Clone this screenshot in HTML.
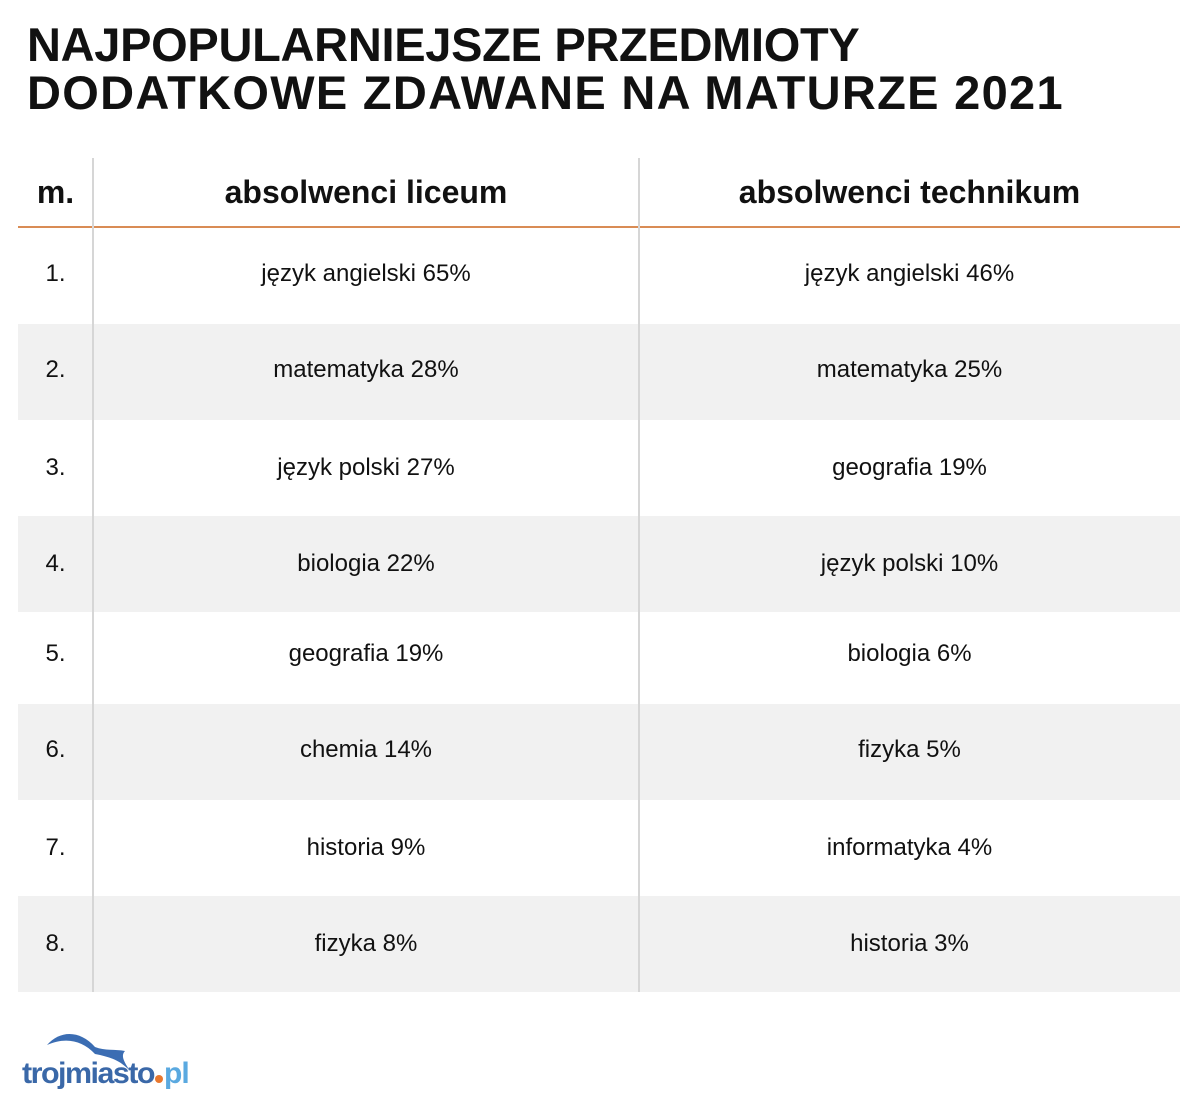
<!DOCTYPE html>
<html><head><meta charset="utf-8"><style>
body{margin:0;width:1198px;height:1120px;background:#fff;position:relative;overflow:hidden;font-family:"Liberation Sans",sans-serif;color:#111}
.t{position:absolute;left:27px;font-weight:bold;font-size:47px;line-height:48px;white-space:nowrap}
.row{position:absolute;left:18px;width:1162px}
.g{background:#f1f1f1}
.c{position:absolute;font-size:24px;text-align:center;white-space:nowrap}
.vl{position:absolute;top:158px;height:834px;width:2px;background:#d6d6d6}
</style></head><body>
<div class="t" style="top:21px;letter-spacing:-0.3px">NAJPOPULARNIEJSZE PRZEDMIOTY</div>
<div class="t" style="top:69px;letter-spacing:1.3px">DODATKOWE ZDAWANE NA MATURZE 2021</div>

<div class="row g" style="top:324px;height:96px"></div>
<div class="row g" style="top:516px;height:96px"></div>
<div class="row g" style="top:704px;height:96px"></div>
<div class="row g" style="top:896px;height:96px"></div>
<div class="row" style="top:226px;height:2px;background:#d98c55"></div>
<div class="vl" style="left:92px"></div>
<div class="vl" style="left:638px"></div>

<div class="c" style="left:18px;width:75px;top:174px;font-size:32px;font-weight:bold">m.</div>
<div class="c" style="left:93px;width:546px;top:174px;font-size:32px;font-weight:bold">absolwenci liceum</div>
<div class="c" style="left:639px;width:541px;top:174px;font-size:32px;font-weight:bold">absolwenci technikum</div>

<div id="rows"></div>
<script>
var d=[["1.","język angielski 65%","język angielski 46%",273],["2.","matematyka 28%","matematyka 25%",369],["3.","język polski 27%","geografia 19%",467],["4.","biologia 22%","język polski 10%",563],["5.","geografia 19%","biologia 6%",653],["6.","chemia 14%","fizyka 5%",749],["7.","historia 9%","informatyka 4%",847],["8.","fizyka 8%","historia 3%",943]];
var h="";d.forEach(function(r){var t=r[3]-13;
h+='<div class="c" style="left:18px;width:75px;top:'+t+'px">'+r[0]+'</div><div class="c" style="left:93px;width:546px;top:'+t+'px">'+r[1]+'</div><div class="c" style="left:639px;width:541px;top:'+t+'px">'+r[2]+'</div>';});
document.getElementById("rows").innerHTML=h;
</script>

<svg style="position:absolute;left:20px;top:1025px" width="180" height="65">
<path d="M27 20 C40 5 60 5 75 22 C85 26 95 24 105 26 C100 31 105 38 110 46 C100 35 90 32 75 29 C62 15 45 12 27 20Z" fill="#3b6db3"/>
<text x="2" y="58" font-family="Liberation Sans,sans-serif" font-weight="bold" font-size="30" fill="#3a68a8" letter-spacing="-1.5" textLength="132" lengthAdjust="spacingAndGlyphs">trojmiasto</text>
<circle cx="139" cy="54" r="4" fill="#e8772e"/>
<text x="144" y="58" font-family="Liberation Sans,sans-serif" font-weight="bold" font-size="30" fill="#5aa9e0" letter-spacing="-1">pl</text>
</svg>
</body></html>
